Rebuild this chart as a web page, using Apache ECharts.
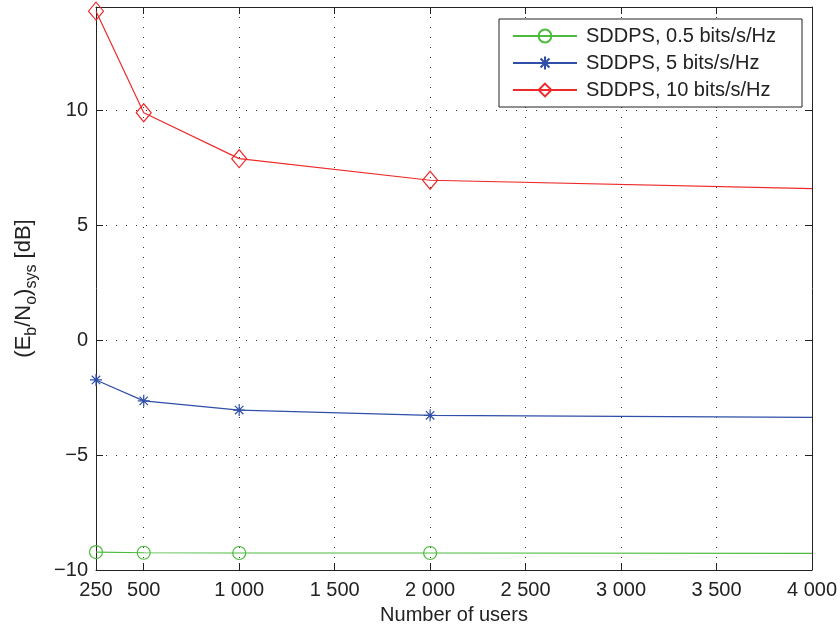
<!DOCTYPE html>
<html>
<head>
<meta charset="utf-8">
<script src="https://cdn.jsdelivr.net/npm/echarts@6/dist/echarts.min.js"></script>
<style>
  html, body { margin: 0; padding: 0; background: #fff; }
  #chart { width: 840px; height: 630px; }
</style>
</head>
<body>
<div id="chart"></div>
<script>
// System Eb/No versus number of users for three spectral efficiencies
const users = [250, 500, 1000, 2000, 4000];
const eb05 = [-9.22, -9.25, -9.26, -9.26, -9.28];
const eb5 = [-1.73, -2.64, -3.04, -3.27, -3.36];
const eb10 = [14.32, 9.9, 7.9, 6.96, 6.6];
const xTicks = [250, 500, 1000, 1500, 2000, 2500, 3000, 3500, 4000];
const yTicks = [-10, -5, 0, 5, 10];
const seriesNames = ['SDDPS, 0.5 bits/s/Hz', 'SDDPS, 5 bits/s/Hz', 'SDDPS, 10 bits/s/Hz'];

const FONT = '"Liberation Sans", Arial, Helvetica, sans-serif';
const GREEN = '#4dbb3f';
const BLUE = '#2f4fa8';
const RED = '#ee2a2a';
const ASTERISK = 'path://M5,0 L5,10 M0,5 L10,5 M1.5,1.5 L8.5,8.5 M8.5,1.5 L1.5,8.5';

// pair x with y; the point at the right edge carries no marker
function pts(ys) {
  return users.map((u, i) => i === users.length - 1
    ? { value: [u, ys[i]], symbol: 'none' }
    : [u, ys[i]]);
}

function thousands(v) {
  const s = String(v);
  return s.length > 3 ? s.slice(0, s.length - 3) + ' ' + s.slice(-3) : s;
}

const grid = { left: 96, right: 28, top: 7, bottom: 59 };
const gridDots = { color: '#333', width: 1, type: [1, 9] };

const chart = echarts.init(document.getElementById('chart'), null, { renderer: 'canvas' });

chart.setOption({
  animation: false,
  backgroundColor: '#fff',
  grid: grid,
  textStyle: { fontFamily: FONT },
  legend: {
    orient: 'vertical',
    right: 38,
    top: 19,
    data: seriesNames,
    backgroundColor: '#fff',
    borderColor: '#222',
    borderWidth: 1,
    borderRadius: 0,
    padding: [7, 8, 7, 13],
    itemGap: 7,
    itemWidth: 64,
    itemHeight: 16,
    textStyle: { fontFamily: FONT, fontSize: 20, color: '#222', lineHeight: 20, width: 208, padding: [0, 0, 0, 4] }
  },
  xAxis: [{
    type: 'value',
    min: 250,
    max: 4000,
    name: 'Number of users',
    nameLocation: 'middle',
    nameGap: 35,
    nameTextStyle: { fontFamily: FONT, fontSize: 20, color: '#222' },
    axisLine: { show: true, onZero: false, lineStyle: { color: '#222', width: 1 } },
    axisTick: { show: true, inside: true, length: 7, customValues: xTicks, lineStyle: { color: '#222' } },
    axisLabel: { customValues: xTicks, formatter: thousands, margin: 10, fontFamily: FONT, fontSize: 20, color: '#222' },
    splitLine: { show: true, lineStyle: gridDots }
  }, {
    type: 'value',
    position: 'top',
    min: 250,
    max: 4000,
    axisLine: { show: true, onZero: false, lineStyle: { color: '#222', width: 1 } },
    axisTick: { show: true, inside: true, length: 7, customValues: xTicks, lineStyle: { color: '#222' } },
    axisLabel: { show: false },
    splitLine: { show: false }
  }],
  yAxis: [{
    type: 'value',
    min: -10,
    max: 14.5,
    interval: 5,
    name: '{n|(E}{s|b}{n|/N}{s|o}{n|)}{s|sys}{n| [dB]}',
    nameLocation: 'middle',
    nameRotate: 90,
    nameGap: 56,
    nameTextStyle: {
      rich: {
        n: { fontFamily: FONT, fontSize: 22, color: '#222', lineHeight: 32, verticalAlign: 'middle' },
        s: { fontFamily: FONT, fontSize: 16, color: '#222', lineHeight: 16, verticalAlign: 'bottom' }
      }
    },
    axisLine: { show: true, onZero: false, lineStyle: { color: '#222', width: 1 } },
    axisTick: { show: true, inside: true, length: 7, customValues: yTicks, lineStyle: { color: '#222' } },
    axisLabel: {
      customValues: yTicks,
      formatter: v => (v < 0 ? '\u2212' + Math.abs(v) : String(v)),
      margin: 8, fontFamily: FONT, fontSize: 20, color: '#222'
    },
    splitLine: { show: true, lineStyle: gridDots }
  }, {
    type: 'value',
    position: 'right',
    min: -10,
    max: 14.5,
    interval: 5,
    axisLine: { show: true, onZero: false, lineStyle: { color: '#222', width: 1 } },
    axisTick: { show: true, inside: true, length: 7, customValues: yTicks, lineStyle: { color: '#222' } },
    axisLabel: { show: false },
    splitLine: { show: false }
  }],
  series: [{
    name: seriesNames[0],
    type: 'line',
    data: pts(eb05),
    symbol: 'circle',
    symbolSize: 13,
    lineStyle: { color: GREEN, width: 1.2 },
    itemStyle: { color: 'rgba(0,0,0,0)', borderColor: GREEN, borderWidth: 1.2 },
    z: 3
  }, {
    name: seriesNames[1],
    type: 'line',
    data: pts(eb5),
    symbol: ASTERISK,
    symbolSize: 12,
    lineStyle: { color: BLUE, width: 1.2 },
    itemStyle: { color: 'rgba(0,0,0,0)', borderColor: BLUE, borderWidth: 1.2 },
    z: 3
  }, {
    name: seriesNames[2],
    type: 'line',
    data: pts(eb10),
    symbol: 'diamond',
    symbolSize: [15, 18],
    lineStyle: { color: RED, width: 1.2 },
    itemStyle: { color: 'rgba(0,0,0,0)', borderColor: RED, borderWidth: 1.2 },
    z: 3
  }]
});
</script>
</body>
</html>
